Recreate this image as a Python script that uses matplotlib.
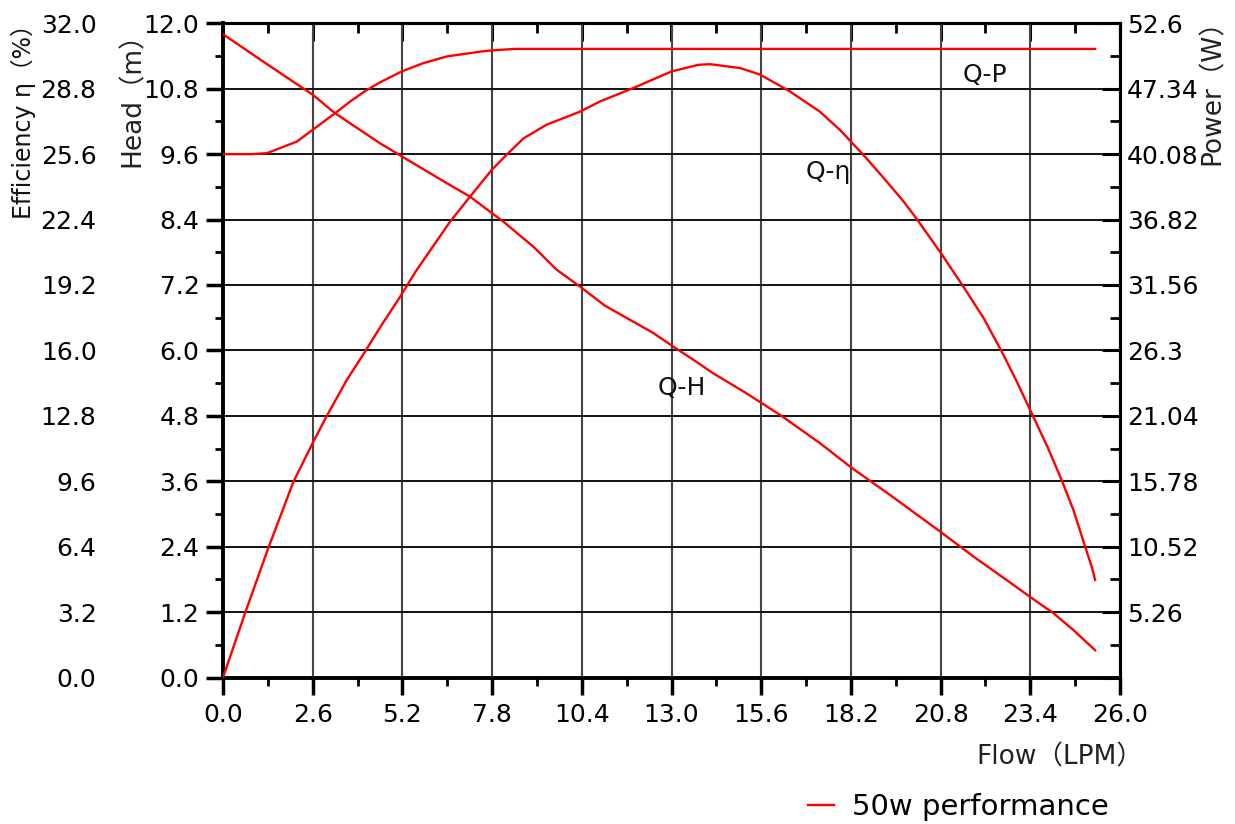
import matplotlib
matplotlib.use("Agg")
import matplotlib.pyplot as plt
from matplotlib.ticker import FixedLocator, FixedFormatter, MultipleLocator

# ---------------- data ----------------
head_flow = [0.0, 1.3, 2.6, 3.25, 4.55, 5.18, 6.48, 7.16, 8.13, 9.0, 9.67, 10.35, 11.07,
             11.8, 12.47, 13.05, 13.63, 14.21, 15.18, 16.14, 17.3, 18.17, 19.33, 20.78,
             21.75, 22.71, 23.39, 24.07, 24.65, 25.28]
head_m = [11.8, 11.24, 10.69, 10.35, 9.80, 9.56, 9.07, 8.82, 8.36, 7.90, 7.48, 7.17, 6.82,
          6.56, 6.32, 6.07, 5.83, 5.58, 5.21, 4.82, 4.30, 3.87, 3.35, 2.68,
          2.22, 1.79, 1.48, 1.18, 0.87, 0.50]

eff_flow = [0.0, 0.64, 1.31, 2.04, 2.6, 3.0, 3.59, 4.12, 4.6, 5.08, 5.6, 6.58, 7.16, 7.79,
            8.22, 8.71, 9.38, 10.35, 10.93, 11.89, 12.99, 13.78, 14.12, 14.99, 15.57, 16.43,
            17.3, 17.88, 18.56, 19.14, 19.72, 20.1, 20.78, 21.46, 22.04, 22.57, 23.0, 23.44,
            23.92, 24.31, 24.65, 24.99, 25.18, 25.28]
eff_pct = [0.0, 3.15, 6.32, 9.57, 11.47, 12.77, 14.56, 15.95, 17.25, 18.48, 19.9, 22.29,
           23.52, 24.83, 25.57, 26.37, 27.04, 27.68, 28.18, 28.83, 29.64, 29.97, 30.0, 29.81,
           29.49, 28.67, 27.68, 26.79, 25.57, 24.45, 23.3, 22.45, 20.83, 19.12, 17.6, 15.95,
           14.5, 12.93, 11.2, 9.65, 8.19, 6.4, 5.42, 4.77]

pow_flow = [0.0, 0.83, 1.27, 1.65, 2.14, 2.6, 3.25, 3.68, 4.12, 4.55, 5.18, 5.81, 6.48, 7.45,
            7.74, 8.46, 25.28]
pow_w = [42.08, 42.08, 42.16, 42.56, 43.09, 44.04, 45.37, 46.3, 47.15, 47.85, 48.73, 49.4,
         49.93, 50.32, 50.41, 50.54, 50.54]

flow_ticks = [0.0, 2.6, 5.2, 7.8, 10.4, 13.0, 15.6, 18.2, 20.8, 23.4, 26.0]
head_ticks = [0.0, 1.2, 2.4, 3.6, 4.8, 6.0, 7.2, 8.4, 9.6, 10.8, 12.0]
eff_ticks = [0.0, 3.2, 6.4, 9.6, 12.8, 16.0, 19.2, 22.4, 25.6, 28.8, 32.0]
pow_ticks = [0.0, 5.26, 10.52, 15.78, 21.04, 26.3, 31.56, 36.82, 42.08, 47.34, 52.6]
pow_labels = ["", "5.26", "10.52", "15.78", "21.04", "26.3", "31.56", "36.82", "40.08",
              "47.34", "52.6"]

curve_labels = ["Q-H", "Q-η", "Q-P"]
legend_label = "50w performance"

# ---------------- style ----------------
W, H = 1235, 824
CJK = ['DejaVu Sans', 'Noto Sans CJK SC']
plt.rcParams['font.family'] = CJK
FS = 18
RED = '#ff0000'

fig = plt.figure(figsize=(W / 100, H / 100), dpi=100)
L, R, T, B = 223, 1120, 23.3, 677.5
ax = fig.add_axes([L / W, 1 - B / H, (R - L) / W, (B - T) / H])

ax.set_xlim(0, 26)
ax.set_ylim(0, 12)
ax.xaxis.set_major_locator(FixedLocator(flow_ticks))
ax.xaxis.set_minor_locator(MultipleLocator(1.3))
ax.yaxis.set_major_locator(FixedLocator(head_ticks))
ax.yaxis.set_minor_locator(MultipleLocator(0.6))
ax.xaxis.set_major_formatter(FixedFormatter([f"{v:.1f}" for v in flow_ticks]))
ax.yaxis.set_major_formatter(FixedFormatter([f"{v:.1f}" for v in head_ticks]))
ax.tick_params(axis='both', which='major', direction='out', length=12, width=2.5,
               labelsize=FS, colors='black')
ax.tick_params(axis='both', which='minor', direction='out', length=6, width=2)
ax.tick_params(axis='x', which='major', pad=6)
ax.tick_params(axis='y', which='major', pad=5)
ax.tick_params(right=False, top=False, which='both')
ax.grid(True, which='major', axis='y', color='#111111', linewidth=1.4)
ax.grid(True, which='major', axis='x', color='#444444', linewidth=1.5)
for s in ax.spines.values():
    s.set_linewidth(2.2)
    s.set_color('black')
ax.spines['left'].set_linewidth(2.8)
ax.spines['bottom'].set_linewidth(2.8)

# top inward ticks
top = ax.secondary_xaxis('top')
top.xaxis.set_major_locator(FixedLocator(flow_ticks))
top.xaxis.set_minor_locator(MultipleLocator(1.3))
top.tick_params(which='major', direction='in', length=13, width=2.2, labeltop=False)
top.tick_params(which='minor', direction='in', length=7, width=2)
top.spines['top'].set_linewidth(2.2)

# efficiency axis (left, outer column)
ax_eff = ax.twinx()
ax_eff.set_ylim(0, 32)
ax_eff.yaxis.set_ticks_position('left')
ax_eff.yaxis.set_label_position('left')
ax_eff.yaxis.set_major_locator(FixedLocator(eff_ticks))
ax_eff.yaxis.set_major_formatter(FixedFormatter([f"{v:.1f}" for v in eff_ticks]))
ax_eff.tick_params(axis='y', which='both', length=0, pad=91, labelsize=FS, colors='black')
for s in ax_eff.spines.values():
    s.set_visible(False)

# power axis (right)
ax_pow = ax.twinx()
ax_pow.set_ylim(0, 52.6)
ax_pow.yaxis.set_major_locator(FixedLocator(pow_ticks))
ax_pow.yaxis.set_major_formatter(FixedFormatter(pow_labels))
ax_pow.yaxis.set_minor_locator(MultipleLocator(2.63))
ax_pow.tick_params(axis='y', which='major', direction='in', length=13, width=2.2,
                   labelsize=FS, pad=5, colors='black')
ax_pow.tick_params(axis='y', which='minor', direction='in', length=7, width=2)
for s in ['left', 'top', 'bottom']:
    ax_pow.spines[s].set_visible(False)
ax_pow.spines['right'].set_linewidth(2.2)

# curves
line_h, = ax.plot(head_flow, head_m, color=RED, lw=1.7, zorder=5)
ax_eff.plot(eff_flow, eff_pct, color=RED, lw=1.7, zorder=5)
ax_pow.plot(pow_flow, pow_w, color=RED, lw=1.7, zorder=5)

# curve labels (head units)
ax.text(13.3, 5.31, curve_labels[0], fontsize=FS, ha='center', va='center', color='#111111')
ax.text(17.54, 9.28, curve_labels[1], fontsize=FS, ha='center', va='center', color='#111111')
ax.text(22.09, 11.05, curve_labels[2], fontsize=FS, ha='center', va='center', color='#111111')

# axis titles
def fx(px):
    return px / W

def fy(py):
    return 1 - py / H

fig.text(fx(23), fy(116), "Efficiency η（%）", rotation=90, ha='center', va='center',
         fontsize=17, color='#111111')
fig.text(fx(133), fy(93), "Head（m）", rotation=90, ha='center', va='center',
         fontsize=19, color='#222222')
fig.text(fx(1213), fy(86), "Power（W）", rotation=90, ha='center', va='center',
         fontsize=19, color='#222222')
fig.text(fx(1060), fy(757), "Flow（LPM）", ha='center', va='center',
         fontsize=19, color='#222222')

fig.legend(handles=[line_h], labels=[legend_label], loc='center left',
           bbox_to_anchor=(fx(802), fy(807)), frameon=False, handlelength=0.9,
           handletextpad=0.6, fontsize=21, borderpad=0.2, borderaxespad=0)

fig.savefig("out.png", dpi=100)
